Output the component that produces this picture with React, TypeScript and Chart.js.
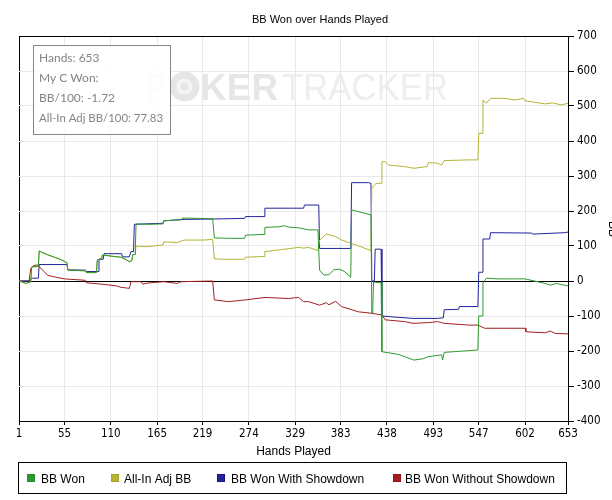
import { useEffect, useRef } from "react";
import { Chart, registerables } from "chart.js";

Chart.register(...registerables);

// ---------- data ----------
const chartTitle = "BB Won over Hands Played";
const xTitle = "Hands Played";
const yTitle = "BB";
const xTickValues = [1, 55, 110, 165, 219, 274, 329, 383, 438, 493, 547, 602, 653];
const yMin = -400;
const yMax = 700;
const yStep = 100;

const seriesNames = ["BB Won", "All-In Adj BB", "BB Won With Showdown", "BB Won Without Showdown"];
const seriesColors = ["#2f9a2f", "#b4b436", "#23239b", "#a41f1f"];
const legendSwatch = ["#1f8f1f", "#a6a628", "#15158a", "#9a1010"];

const infoLines = ["Hands: 653", "My C Won:", "BB/100: -1.72", "All-In Adj BB/100: 77.83"];

const bbWonHands = [1, 4, 9, 13, 15, 16, 24, 25, 28, 35, 43, 50, 55, 58, 59, 70, 80, 81, 93, 94, 99, 100, 108, 114, 122, 129, 132, 135, 136, 139, 140, 155, 172, 173, 194, 195, 231, 233, 250, 269, 270, 292, 293, 310, 316, 321, 333, 345, 356, 358, 363, 369, 375, 381, 387, 395, 396, 419, 420, 421, 422, 431, 432, 452, 470, 481, 487, 503, 504, 506, 517, 535, 546, 547, 551, 552, 556, 570, 594, 602, 626, 632, 639, 653];
const bbWonValues = [0, -2, -7, -4, -2, 40, 42, 86, 82, 75, 68, 62, 56, 52, 31, 30, 29, 24, 24, 60, 65, 74, 72, 70, 68, 60, 55, 58, 75, 76, 163, 162, 163, 172, 175, 180, 178, 123, 122, 122, 131, 133, 153, 155, 158, 154, 152, 146, 146, 31, 17, 18, 32, 34, 28, 11, 203, 189, -92, -92, -3, -5, -202, -210, -226, -222, -216, -211, -226, -204, -202, -199, -197, -100, -100, -7, 8, 6, 6, 6, -7, -12, -7, -14];

const allInHands = [1, 4, 9, 13, 15, 16, 24, 25, 28, 35, 43, 50, 55, 58, 59, 70, 80, 81, 93, 94, 99, 100, 108, 114, 122, 129, 132, 135, 136, 139, 140, 153, 172, 173, 189, 197, 221, 231, 233, 250, 269, 270, 292, 293, 317, 333, 339, 345, 356, 358, 366, 377, 384, 395, 408, 419, 420, 425, 431, 432, 436, 440, 459, 470, 486, 487, 498, 503, 506, 535, 546, 547, 551, 552, 556, 561, 578, 590, 600, 602, 626, 635, 645, 653];
const allInValues = [0, -2, -7, -4, -2, 40, 42, 86, 82, 75, 68, 62, 56, 52, 31, 30, 29, 24, 24, 60, 65, 74, 72, 70, 68, 60, 55, 58, 75, 76, 100, 98, 103, 112, 110, 117, 117, 119, 63, 62, 62, 68, 70, 84, 91, 96, 94, 96, 87, 117, 134, 127, 117, 108, 97, 87, 265, 279, 279, 341, 341, 331, 327, 322, 327, 338, 337, 331, 344, 346, 346, 422, 422, 517, 508, 522, 522, 517, 522, 515, 506, 509, 503, 508];

const showdownHands = [1, 13, 17, 24, 25, 58, 59, 80, 81, 95, 96, 101, 102, 123, 124, 132, 134, 137, 138, 172, 173, 197, 231, 269, 270, 292, 293, 339, 340, 357, 358, 395, 396, 416, 419, 420, 423, 424, 431, 432, 452, 470, 498, 505, 506, 523, 524, 546, 547, 551, 552, 560, 561, 610, 611, 649, 653];
const showdownValues = [0, 0, 8, 8, 47, 47, 32, 31, 27, 27, 62, 62, 78, 78, 69, 69, 84, 84, 162, 165, 172, 176, 177, 179, 184, 184, 208, 208, 217, 217, 93, 93, 281, 281, 279, 0, 0, 91, 91, -100, -104, -107, -107, -105, -82, -81, -73, -73, 25, 25, 120, 120, 138, 137, 134, 138, 140];

const noShowdownHands = [1, 13, 15, 18, 23, 26, 31, 35, 43, 55, 80, 81, 103, 117, 122, 129, 132, 134, 146, 148, 153, 173, 189, 193, 231, 233, 250, 270, 293, 321, 333, 339, 345, 358, 366, 369, 377, 384, 404, 419, 432, 436, 459, 469, 487, 498, 503, 506, 535, 546, 554, 602, 603, 626, 632, 638, 653];
const noShowdownValues = [0, 0, 36, 44, 46, 38, 27, 16, 12, 6, 2, -5, -10, -14, -18, -20, -21, -2, -2, -9, -6, -2, -7, -2, 0, -54, -59, -54, -47, -50, -47, -59, -59, -69, -62, -68, -58, -73, -88, -92, -97, -111, -116, -121, -119, -116, -119, -121, -126, -126, -135, -135, -145, -148, -143, -150, -151];

const seriesHands = [bbWonHands, allInHands, showdownHands, noShowdownHands];
const seriesValues = [bbWonValues, allInValues, showdownValues, noShowdownValues];

// ---------- styling ----------
const SANS = "'Liberation Sans', Arial, sans-serif";
const NARROW = "'Liberation Sans Narrow', 'DejaVu Sans Condensed', 'Liberation Sans', sans-serif";
const GRID = "#e9e9e9";

const decorPlugin = {
  id: "decor",
  beforeDraw(chart: any) {
    const ctx = chart.ctx as CanvasRenderingContext2D;
    ctx.save();
    ctx.fillStyle = "#ffffff";
    ctx.fillRect(0, 0, chart.width, chart.height);
    // watermark
    ctx.textBaseline = "alphabetic";
    ctx.textAlign = "left";
    ctx.fillStyle = "#e6e6e6";
    ctx.font = `bold 37px ${SANS}`;
    ctx.fillText("P", 146, 100, 20);
    ctx.beginPath();
    ctx.arc(184.5, 86.5, 15, 0, Math.PI * 2);
    ctx.fill();
    ctx.fillStyle = "#f4f4f4";
    ctx.beginPath();
    ctx.arc(184.5, 86.5, 8, 0, Math.PI * 2);
    ctx.fill();
    ctx.fillStyle = "#e6e6e6";
    ctx.beginPath();
    ctx.arc(184.5, 86.5, 4, 0, Math.PI * 2);
    ctx.fill();
    ctx.font = `bold 37px ${SANS}`;
    ctx.fillText("KER", 200, 100, 80);
    ctx.fillStyle = "#eeeeee";
    ctx.font = `37px ${SANS}`;
    ctx.fillText("TRACKER", 282, 100, 166);
    ctx.restore();
  },
  afterDraw(chart: any) {
    const ctx = chart.ctx as CanvasRenderingContext2D;
    ctx.save();
    // title
    ctx.fillStyle = "#000";
    ctx.font = `11px ${SANS}`;
    ctx.textAlign = "center";
    ctx.textBaseline = "alphabetic";
    ctx.fillText(chartTitle, 320, 23);

    // info box
    ctx.fillStyle = "rgba(255,255,255,0.85)";
    ctx.fillRect(33.5, 45.5, 137, 89);
    ctx.strokeStyle = "#858585";
    ctx.lineWidth = 1;
    ctx.strokeRect(33.5, 45.5, 137, 89);
    ctx.fillStyle = "#858585";
    ctx.font = `12px Lato, 'Open Sans', sans-serif`;
    ctx.textAlign = "left";
    ctx.textBaseline = "middle";
    infoLines.forEach((t, i) => ctx.fillText(t, 39, 58.5 + i * 20, 124));

    // legend
    ctx.strokeStyle = "#000";
    ctx.strokeRect(18.5, 462.5, 548, 31);
    const sq = [27, 111, 217, 393];
    const tx = [41, 124, 231, 405];
    ctx.font = `12px ${SANS}`;
    ctx.textBaseline = "alphabetic";
    chart.data.datasets.forEach((ds: any, i: number) => {
      ctx.fillStyle = ds.borderColor;
      ctx.fillRect(sq[i], 474.5, 7, 7);
      ctx.strokeStyle = legendSwatch[i];
      ctx.strokeRect(sq[i] + 0.5, 474.5, 7, 7);
      ctx.fillStyle = "#000";
      ctx.fillText(ds.label, tx[i], 482.5);
    });

    // clipped right-hand axis title
    ctx.translate(612, 229);
    ctx.rotate(Math.PI / 2);
    ctx.textAlign = "center";
    ctx.textBaseline = "middle";
    ctx.fillStyle = "#000";
    ctx.font = `12px ${SANS}`;
    ctx.fillText(yTitle, 0, 0);
    ctx.restore();
  },
};

export default function App() {
  const ref = useRef<HTMLCanvasElement | null>(null);

  useEffect(() => {
    if (!ref.current) return;
    const datasets = seriesNames.map((name, s) => ({
      label: name,
      data: seriesHands[s].map((h, i) => ({ x: h, y: seriesValues[s][i] })),
      borderColor: seriesColors[s],
      backgroundColor: seriesColors[s],
      borderWidth: 1,
      pointRadius: 0,
      pointHoverRadius: 0,
      fill: false,
      tension: 0,
    }));
    const chart = new Chart(ref.current, {
      type: "line",
      data: { datasets },
      plugins: [decorPlugin],
      options: {
        animation: false,
        responsive: false,
        maintainAspectRatio: false,
        devicePixelRatio: 1,
        events: [],
        layout: { padding: { left: 19, top: 36, right: 0, bottom: 41 } },
        plugins: {
          legend: { display: false },
          title: { display: false },
          tooltip: { enabled: false },
        },
        scales: {
          x: {
            type: "linear",
            min: 1,
            max: 653,
            afterBuildTicks: (s: any) => {
              s.ticks = xTickValues.map((v) => ({ value: v }));
            },
            afterFit: (s: any) => {
              s.height = 38;
            },
            ticks: {
              autoSkip: false,
              maxRotation: 0,
              minRotation: 0,
              padding: 2,
              color: "#000",
              font: { family: NARROW, size: 11.5 },
              callback: (v: any) => String(v),
            },
            grid: {
              color: (c: any) => (c.tick && c.tick.value === 1 ? "#000" : GRID),
              tickColor: "#000",
              tickLength: 4,
            },
            border: { display: true, color: "#000" },
            title: {
              display: true,
              text: xTitle,
              color: "#000",
              font: { family: SANS, size: 12 },
              padding: 0,
            },
          },
          y: {
            position: "right",
            min: yMin,
            max: yMax,
            afterFit: (s: any) => {
              s.width = 44;
            },
            ticks: {
              stepSize: yStep,
              color: "#000",
              padding: 3,
              font: { family: NARROW, size: 11.5 },
            },
            grid: {
              color: (c: any) =>
                c.tick && (c.tick.value === 0 || c.tick.value === yMax) ? "#000" : GRID,
              tickColor: "#000",
              tickLength: 6,
            },
            border: { display: true, color: "#000" },
          },
        },
      },
    } as any);
    return () => chart.destroy();
  }, []);

  return (
    <div style={{ position: "absolute", left: 0, top: 0, width: 612, height: 500, background: "#fff" }}>
      <canvas ref={ref} width={612} height={500} style={{ display: "block", width: 612, height: 500 }} />
    </div>
  );
}
